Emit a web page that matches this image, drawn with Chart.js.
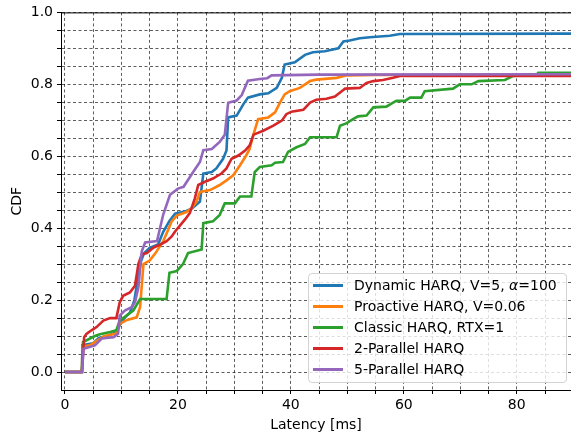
<!DOCTYPE html>
<html><head><meta charset="utf-8">
<script src="https://cdn.jsdelivr.net/npm/chart.js@4/dist/chart.umd.min.js"></script>
<style>
html,body{margin:0;padding:0;background:#fff;}
#wrap{position:relative;width:571px;height:435px;overflow:hidden;}
#legend{position:absolute;left:308px;top:273px;width:259px;height:110px;box-sizing:border-box;border:1px solid #d4d4d4;border-radius:4px;background:rgba(255,255,255,0.8);font-family:'DejaVu Sans';font-size:14px;color:#000;}
.sw{position:absolute;left:4px;width:30px;height:3px;}
.lb{position:absolute;left:45px;white-space:nowrap;line-height:16px;}
</style></head>
<body>
<div id="wrap"><canvas id="c" width="571" height="435"></canvas><div id="legend"></div></div>
<script>
// ---- data (latency [ms], CDF) ----
const seriesLabels = ['Dynamic HARQ, V=5, <i>α</i>=100','Proactive HARQ, V=0.06','Classic HARQ, RTX=1','2-Parallel HARQ','5-Parallel HARQ'];
const seriesColors = ['#1f77b4','#ff7f0e','#2ca02c','#d62728','#9467bd'];
const dynamicHarq = [[0,0],[3,0],[3.1,0.075],[5,0.08],[6,0.095],[7.5,0.1],[9,0.11],[9.7,0.13],[10.5,0.15],[11.5,0.165],[12.3,0.2],[13,0.27],[13.5,0.31],[14,0.33],[15,0.345],[16.5,0.355],[17.4,0.39],[18.5,0.42],[19.5,0.44],[21.2,0.446],[22.5,0.455],[23.9,0.474],[24.5,0.552],[26,0.556],[26.8,0.566],[28,0.593],[28.6,0.616],[28.9,0.708],[30.4,0.713],[31.6,0.745],[32.4,0.763],[34.5,0.772],[36,0.775],[37.5,0.79],[38.4,0.818],[38.9,0.855],[40.7,0.861],[42.5,0.882],[43.9,0.889],[46,0.892],[48.4,0.9],[49.3,0.919],[50.4,0.922],[52.2,0.928],[54,0.931],[57.5,0.935],[59.3,0.94],[90,0.941]];
const proactiveHarq = [[0,0],[3,0],[3.1,0.07],[4.5,0.075],[5.5,0.085],[7,0.1],[8.5,0.105],[9.1,0.107],[9.7,0.134],[11,0.145],[12.7,0.152],[13.3,0.18],[13.9,0.3],[15,0.31],[16,0.33],[17.4,0.364],[18.3,0.396],[18.9,0.419],[19.8,0.435],[21.5,0.445],[22.4,0.455],[23.3,0.474],[23.9,0.501],[25.7,0.506],[27.4,0.52],[28.6,0.533],[29.8,0.547],[31,0.575],[32,0.6],[32.7,0.62],[33.3,0.657],[34.2,0.703],[36,0.708],[37.2,0.722],[38.1,0.75],[38.9,0.772],[39.8,0.781],[41.6,0.79],[43.4,0.809],[44.5,0.813],[48.1,0.818],[49.9,0.825],[55,0.826],[90,0.827]];
const classicHarq = [[0,0],[3,0],[3.2,0.083],[5.3,0.1],[6.2,0.105],[8,0.111],[9.1,0.116],[9.7,0.143],[10.9,0.157],[12.1,0.171],[13.3,0.203],[18,0.203],[18.5,0.276],[19.8,0.281],[20.9,0.3],[21.8,0.331],[24.2,0.341],[24.5,0.414],[26.2,0.419],[27.4,0.437],[28.3,0.469],[30.1,0.469],[31,0.488],[33,0.488],[33.6,0.556],[34.5,0.57],[36.6,0.575],[37.2,0.582],[38.6,0.584],[39.5,0.612],[41,0.625],[42.5,0.634],[43.4,0.653],[48.1,0.653],[48.7,0.685],[49.9,0.692],[51,0.703],[51.9,0.711],[53.4,0.713],[54.6,0.736],[56.9,0.738],[58.1,0.749],[58.7,0.754],[60.2,0.754],[61.1,0.763],[63.1,0.763],[63.7,0.781],[68.7,0.788],[69.9,0.8],[72,0.8],[73.2,0.809],[77.9,0.812],[79.3,0.823],[83.5,0.827],[83.8,0.832],[90,0.832]];
const parallel2Harq = [[0,0],[3,0],[3.4,0.097],[3.8,0.106],[4.7,0.116],[5.6,0.125],[6.8,0.143],[8,0.15],[9.1,0.15],[9.7,0.194],[10.3,0.212],[11.5,0.221],[12.4,0.24],[13,0.3],[13.6,0.327],[14.5,0.331],[15.6,0.345],[16.8,0.354],[18,0.364],[18.9,0.377],[19.5,0.391],[20.5,0.41],[21.3,0.425],[22.1,0.442],[23,0.483],[23.6,0.52],[24.8,0.529],[26.2,0.538],[27.7,0.552],[28.6,0.566],[29.5,0.593],[30.7,0.602],[31.9,0.616],[32.7,0.63],[33.4,0.66],[35.1,0.671],[36.9,0.685],[38.4,0.699],[39.2,0.717],[40.1,0.724],[42.2,0.729],[43.4,0.749],[44.5,0.757],[46.3,0.76],[47.8,0.766],[49,0.781],[49.6,0.788],[52.2,0.79],[53.4,0.804],[54.6,0.809],[56.3,0.812],[58.1,0.818],[59.3,0.823],[90,0.823]];
const parallel5Harq = [[0,0],[3,0],[3.3,0.065],[5.3,0.074],[6.5,0.093],[8.6,0.097],[9.4,0.106],[9.7,0.157],[10.6,0.171],[11.8,0.18],[12.4,0.194],[13,0.235],[13.6,0.336],[14.2,0.36],[16.3,0.364],[17.4,0.438],[18.6,0.493],[20,0.51],[21,0.515],[22.7,0.556],[23.9,0.584],[24.5,0.617],[26,0.62],[27.4,0.64],[28.3,0.66],[28.9,0.749],[30.4,0.755],[31.3,0.77],[32.4,0.81],[34.5,0.815],[35.8,0.817],[36.6,0.825],[45,0.827],[90,0.828]];
const allSeries = [dynamicHarq, proactiveHarq, classicHarq, parallel2Harq, parallel5Harq];
// tick labels
const xTickLabels = [0,20,40,60,80];
const yTickLabels = ['0.0','0.2','0.4','0.6','0.8','1.0'];
const xGridStep = 5, yGridStep = 0.05;

Chart.defaults.font.family = "'DejaVu Sans'";
Chart.defaults.font.size = 14;
Chart.defaults.color = '#000';

const xGrid = []; for (let v = 0; v <= 85; v += xGridStep) xGrid.push(v);
const yGrid = []; for (let i = 0; i <= 20; i++) yGrid.push(+(i*yGridStep).toFixed(2));

const spine = {id:'spine', afterDraw(chart){const {ctx, chartArea:a}=chart; ctx.save(); ctx.strokeStyle='#000'; ctx.lineWidth=1; ctx.beginPath(); ctx.moveTo(a.left,a.top+0.5); ctx.lineTo(a.right,a.top+0.5); ctx.stroke(); ctx.restore();}};

const gridOpts = {color:'rgba(0,0,0,0.8)', lineWidth:0.8, tickLength:4, tickColor:'#000', tickWidth:1, tickBorderDash:[]};
new Chart(document.getElementById('c'), {
  type:'line',
  data:{datasets: allSeries.map((s,i)=>({
    label: seriesLabels[i].replace(/<\/?i>/g,''),
    data: s.map(p=>({x:p[0], y:p[1]})),
    borderColor: seriesColors[i], backgroundColor: seriesColors[i],
    borderWidth: 2.6, pointRadius: 0, tension: 0, fill:false,
    order: allSeries.length - 1 - i
  }))},
  options:{
    responsive:false, animation:false,
    layout:{padding:{top:9,right:0,left:0,bottom:0}},
    plugins:{legend:{display:false}, tooltip:{enabled:false}},
    scales:{
      x:{type:'linear', min:-0.7, max:89.6,
        afterBuildTicks: s=>{ s.ticks = xGrid.map(v=>({value:v})); },
        afterFit: s=>{ s.height = 45; },
        ticks:{autoSkip:false, maxRotation:0, padding:3, callback:v=> xTickLabels.includes(v) ? String(v) : ''},
        grid:gridOpts, border:{color:'#000', width:1, dash:[3,2.5]},
        title:{display:true, text:'Latency [ms]', padding:{top:0,bottom:1.6}}
      },
      y:{type:'linear', min:-0.05, max:1.0,
        afterBuildTicks: s=>{ s.ticks = yGrid.map(v=>({value:v})); },
        afterFit: s=>{ s.width = 61; },
        ticks:{autoSkip:false, padding:4, callback:v=>{ const k=Math.round(v/yGridStep); return k%4===0 ? yTickLabels[k/4] : ''; }},
        grid:gridOpts, border:{color:'#000', width:1, dash:[3,2.5]},
        title:{display:true, text:'CDF', padding:{top:8.6,bottom:0}}
      }
    }
  },
  plugins:[spine]
});

// legend (HTML text)
const lg = document.getElementById('legend');
seriesLabels.forEach((t,i)=>{
  const cy = 11 + i*21;
  const sw = document.createElement('div'); sw.className='sw'; sw.style.top=(cy-1.5)+'px'; sw.style.background=seriesColors[i]; lg.appendChild(sw);
  const lb = document.createElement('div'); lb.className='lb'; lb.style.top=(cy-8)+'px'; lb.innerHTML=t; lg.appendChild(lb);
});
</script>
</body></html>
